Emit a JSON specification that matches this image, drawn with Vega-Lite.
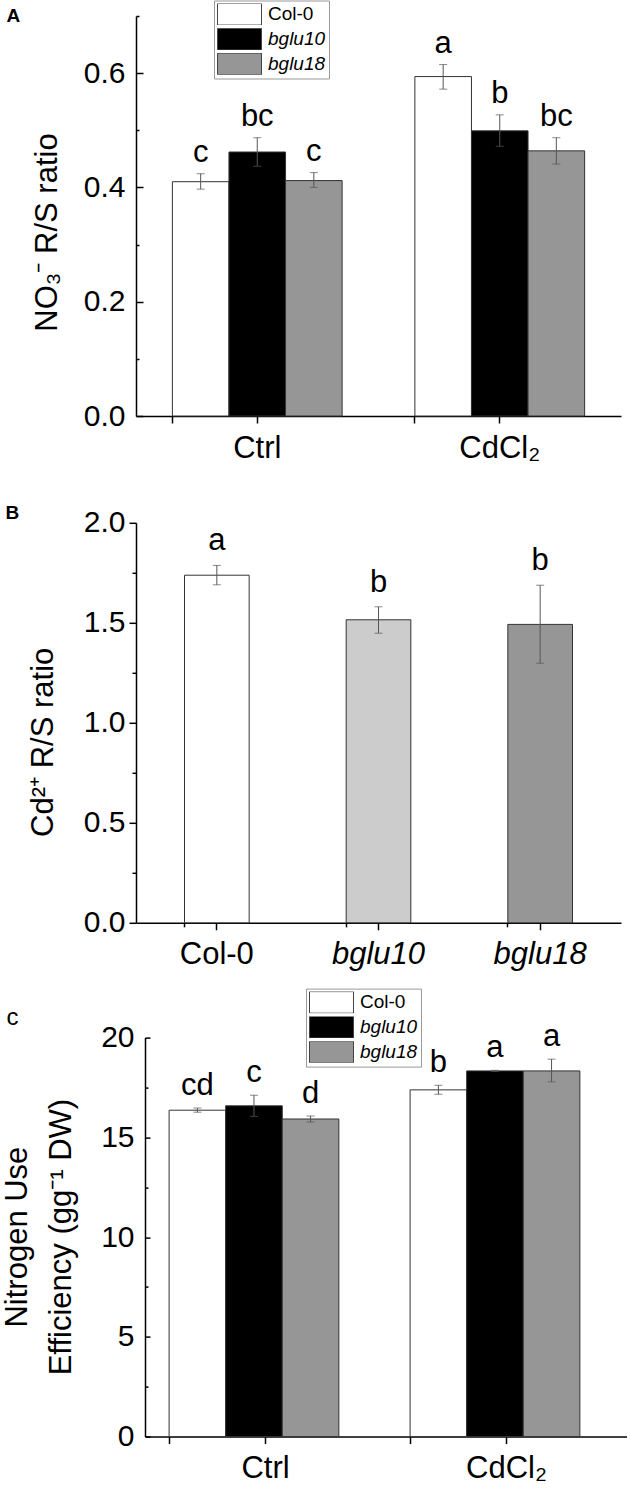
{
  "$schema": "https://vega.github.io/schema/vega-lite/v6.json",
  "background": "white",
  "padding": {"left": 1, "top": 0, "right": 0, "bottom": 0},
  "bounds": "flush",
  "spacing": 106.8,
  "resolve": {"scale": {"fill": "independent"}, "legend": {"fill": "independent"}},
  "config": {
    "font": "Liberation Sans",
    "view": {"stroke": null},
    "axis": {
      "domainColor": "black", "domainWidth": 1.5, "tickColor": "black", "tickWidth": 1.5, "tickSize": 7,
      "labelFont": "Liberation Sans", "labelFontSize": 30, "labelColor": "black",
      "titleFont": "Liberation Sans", "titleFontSize": 31, "titleFontWeight": "normal", "titleColor": "black",
      "grid": false
    },
    "legend": {
      "orient": "none", "direction": "vertical", "title": null,
      "symbolType": "M-1,-0.49H1V0.49H-1Z", "symbolSize": 1936, "symbolStrokeColor": "#444", "symbolStrokeWidth": 1,
      "clipHeight": 21.6,
      "labelFont": "Liberation Sans", "labelFontSize": 19, "labelColor": "black", "labelOffset": 6,
      "rowPadding": 2.8, "padding": 3, "strokeColor": "#999", "fillColor": "white"
    }
  },
  "datasets": {
    "nitrate": [
      {"treatment": "Ctrl", "genotype": "Col-0", "mean": 0.410, "lo": 0.397, "hi": 0.424, "letter": "c"},
      {"treatment": "Ctrl", "genotype": "bglu10", "mean": 0.462, "lo": 0.437, "hi": 0.487, "letter": "bc"},
      {"treatment": "Ctrl", "genotype": "bglu18", "mean": 0.412, "lo": 0.400, "hi": 0.426, "letter": "c"},
      {"treatment": "CdCl₂", "genotype": "Col-0", "mean": 0.594, "lo": 0.572, "hi": 0.615, "letter": "a"},
      {"treatment": "CdCl₂", "genotype": "bglu10", "mean": 0.499, "lo": 0.472, "hi": 0.527, "letter": "b"},
      {"treatment": "CdCl₂", "genotype": "bglu18", "mean": 0.464, "lo": 0.441, "hi": 0.487, "letter": "bc"}
    ],
    "cadmium": [
      {"genotype": "Col-0", "mean": 1.738, "lo": 1.690, "hi": 1.787, "letter": "a"},
      {"genotype": "bglu10", "mean": 1.515, "lo": 1.448, "hi": 1.580, "letter": "b"},
      {"genotype": "bglu18", "mean": 1.492, "lo": 1.298, "hi": 1.688, "letter": "b"}
    ],
    "nue": [
      {"treatment": "Ctrl", "genotype": "Col-0", "mean": 16.36, "lo": 16.26, "hi": 16.47, "letter": "cd"},
      {"treatment": "Ctrl", "genotype": "bglu10", "mean": 16.58, "lo": 16.05, "hi": 17.11, "letter": "c"},
      {"treatment": "Ctrl", "genotype": "bglu18", "mean": 15.92, "lo": 15.77, "hi": 16.07, "letter": "d"},
      {"treatment": "CdCl₂", "genotype": "Col-0", "mean": 17.38, "lo": 17.16, "hi": 17.61, "letter": "b"},
      {"treatment": "CdCl₂", "genotype": "bglu10", "mean": 18.33, "lo": 18.30, "hi": 18.36, "letter": "a"},
      {"treatment": "CdCl₂", "genotype": "bglu18", "mean": 18.33, "lo": 17.78, "hi": 18.92, "letter": "a"}
    ]
  },
  "vconcat": [
    {
      "width": 485, "height": 400,
      "data": {"name": "nitrate"},
      "layer": [
        {
          "mark": {"type": "bar", "stroke": "#333", "strokeWidth": 1},
          "encoding": {
            "x": {"field": "treatment", "type": "nominal", "sort": ["Ctrl", "CdCl₂"], "scale": {"paddingInner": 0.3, "paddingOuter": 0.15},
              "axis": {"title": null, "labelAngle": 0, "labelPadding": 10, "labelFontSize": 31, "orient": "bottom"}},
            "xOffset": {"field": "genotype", "type": "nominal", "sort": ["Col-0", "bglu10", "bglu18"], "scale": {"paddingInner": 0, "paddingOuter": 0}},
            "y": {"field": "mean", "type": "quantitative", "scale": {"domain": [0, 0.7], "nice": false, "zero": true},
              "axis": {"values": [0, 0.2, 0.4, 0.6], "format": ".1f", "tickSize": -7, "labelPadding": 18, "orient": "left",
                "title": "NO₃⁻ R/S ratio", "titleX": -80, "titleY": 216, "titleAngle": 270, "titleAlign": "center", "titleBaseline": "alphabetic"}},
            "fill": {"field": "genotype", "type": "nominal",
              "scale": {"domain": ["Col-0", "bglu10", "bglu18"], "range": ["#ffffff", "#000000", "#969696"]},
              "legend": {"legendX": 78, "legendY": -15.5,
                "encode": {"labels": {"update": {"fontStyle": {"signal": "datum.label == 'Col-0' ? 'normal' : 'italic'"}}}}}}
          }
        },
        {
          "mark": {"type": "rule", "color": "#555", "strokeWidth": 1},
          "encoding": {
            "x": {"field": "treatment", "type": "nominal", "sort": ["Ctrl", "CdCl₂"],
              "axis": {"title": null, "labels": false, "domain": false, "bandPosition": 0, "tickSize": 7, "orient": "bottom"}},
            "xOffset": {"field": "genotype", "type": "nominal", "sort": ["Col-0", "bglu10", "bglu18"]},
            "y": {"field": "lo", "type": "quantitative",
              "axis": {"values": [0.1, 0.3, 0.5, 0.7], "labels": false, "domain": false, "tickSize": -3, "title": null, "orient": "left"}},
            "y2": {"field": "hi"}
          }
        },
        {
          "mark": {"type": "tick", "color": "#555", "size": 8, "thickness": 1},
          "encoding": {
            "x": {"field": "treatment", "type": "nominal", "sort": ["Ctrl", "CdCl₂"],
              "axis": {"orient": "top", "labels": false, "ticks": false, "domain": false, "title": "A",
                "titleX": -130, "titleY": 5.2, "titleAngle": 0, "titleAlign": "left", "titleBaseline": "alphabetic",
                "titleFontSize": 19, "titleFontWeight": "bold"}},
            "xOffset": {"field": "genotype", "type": "nominal", "sort": ["Col-0", "bglu10", "bglu18"]},
            "y": {"field": "hi", "type": "quantitative", "axis": null}
          }
        },
        {
          "mark": {"type": "tick", "color": "#555", "size": 8, "thickness": 1},
          "encoding": {
            "x": {"field": "treatment", "type": "nominal", "sort": ["Ctrl", "CdCl₂"], "axis": null},
            "xOffset": {"field": "genotype", "type": "nominal", "sort": ["Col-0", "bglu10", "bglu18"]},
            "y": {"field": "lo", "type": "quantitative", "axis": null}
          }
        },
        {
          "mark": {"type": "text", "fontSize": 31, "dy": -12, "baseline": "alphabetic", "color": "black", "font": "Liberation Sans"},
          "encoding": {
            "x": {"field": "treatment", "type": "nominal", "sort": ["Ctrl", "CdCl₂"], "axis": null},
            "xOffset": {"field": "genotype", "type": "nominal", "sort": ["Col-0", "bglu10", "bglu18"]},
            "y": {"field": "hi", "type": "quantitative", "axis": null},
            "text": {"field": "letter"}
          }
        }
      ],
      "resolve": {"axis": {"x": "independent", "y": "independent"}}
    },
    {
      "width": 485, "height": 400,
      "data": {"name": "cadmium"},
      "layer": [
        {
          "mark": {"type": "bar", "stroke": "#333", "strokeWidth": 1},
          "encoding": {
            "x": {"field": "genotype", "type": "nominal", "sort": ["Col-0", "bglu10", "bglu18"], "scale": {"paddingInner": 0.6, "paddingOuter": 0.3},
              "axis": {"title": null, "labelAngle": 0, "labelPadding": 10, "labelFontSize": 31, "orient": "bottom",
                "labelFontStyle": {"condition": {"test": "datum.value != 'Col-0'", "value": "italic"}, "value": "normal"}}},
            "y": {"field": "mean", "type": "quantitative", "scale": {"domain": [0, 2], "nice": false},
              "axis": {"values": [0, 0.5, 1, 1.5, 2], "format": ".1f", "labelPadding": 4, "orient": "left",
                "title": "Cd²⁺ R/S ratio", "titleX": -84, "titleY": 219, "titleAngle": 270, "titleAlign": "center", "titleBaseline": "alphabetic"}},
            "fill": {"field": "genotype", "type": "nominal",
              "scale": {"domain": ["Col-0", "bglu10", "bglu18"], "range": ["#ffffff", "#cccccc", "#969696"]}, "legend": null}
          }
        },
        {
          "mark": {"type": "rule", "color": "#555", "strokeWidth": 1},
          "encoding": {
            "x": {"field": "genotype", "type": "nominal", "sort": ["Col-0", "bglu10", "bglu18"],
              "axis": {"title": null, "labels": false, "domain": false, "bandPosition": 0, "tickSize": 4, "orient": "bottom"}},
            "y": {"field": "lo", "type": "quantitative",
              "axis": {"values": [0.25, 0.75, 1.25, 1.75], "labels": false, "domain": false, "tickSize": 4, "title": null, "orient": "left"}},
            "y2": {"field": "hi"}
          }
        },
        {
          "mark": {"type": "tick", "color": "#555", "size": 8, "thickness": 1},
          "encoding": {
            "x": {"field": "genotype", "type": "nominal", "sort": ["Col-0", "bglu10", "bglu18"],
              "axis": {"orient": "top", "labels": false, "ticks": false, "domain": false, "title": "B",
                "titleX": -131, "titleY": -4.3, "titleAngle": 0, "titleAlign": "left", "titleBaseline": "alphabetic",
                "titleFontSize": 19, "titleFontWeight": "bold"}},
            "y": {"field": "hi", "type": "quantitative", "axis": null}
          }
        },
        {
          "mark": {"type": "tick", "color": "#555", "size": 8, "thickness": 1},
          "encoding": {
            "x": {"field": "genotype", "type": "nominal", "sort": ["Col-0", "bglu10", "bglu18"], "axis": null},
            "y": {"field": "lo", "type": "quantitative", "axis": null}
          }
        },
        {
          "mark": {"type": "text", "fontSize": 31, "dy": -15, "baseline": "alphabetic", "color": "black", "font": "Liberation Sans"},
          "encoding": {
            "x": {"field": "genotype", "type": "nominal", "sort": ["Col-0", "bglu10", "bglu18"], "axis": null},
            "y": {"field": "hi", "type": "quantitative", "axis": null},
            "text": {"field": "letter"}
          }
        }
      ],
      "resolve": {"axis": {"x": "independent", "y": "independent"}}
    },
    {
      "width": 491, "height": 407,
      "data": {"name": "nue"},
      "layer": [
        {
          "mark": {"type": "bar", "stroke": "#333", "strokeWidth": 1},
          "encoding": {
            "x": {"field": "treatment", "type": "nominal", "sort": ["Ctrl", "CdCl₂"], "scale": {"range": [9, 491], "paddingInner": 0.2, "paddingOuter": 0.1},
              "axis": {"title": null, "labelAngle": 0, "labelPadding": 10, "labelFontSize": 31, "orient": "bottom"}},
            "xOffset": {"field": "genotype", "type": "nominal", "sort": ["Col-0", "bglu10", "bglu18"], "scale": {"paddingInner": 0, "paddingOuter": 0}},
            "y": {"field": "mean", "type": "quantitative", "scale": {"domain": [0, 20], "nice": false, "range": [407, 8]},
              "axis": {"values": [0, 5, 10, 15, 20], "format": "d", "tickSize": -5, "labelPadding": 16, "orient": "left", "offset": -9,
                "title": ["Nitrogen Use", "Efficiency (gg⁻¹ DW)"], "titleX": -143, "titleY": 207, "titleAngle": 270, "titleAlign": "center", "titleBaseline": "top", "titleLineHeight": 44.6}},
            "fill": {"field": "genotype", "type": "nominal",
              "scale": {"domain": ["Col-0", "bglu10", "bglu18"], "range": ["#ffffff", "#000000", "#969696"]},
              "legend": {"legendX": 170, "legendY": -41,
                "encode": {"labels": {"update": {"fontStyle": {"signal": "datum.label == 'Col-0' ? 'normal' : 'italic'"}}}}}}
          }
        },
        {
          "mark": {"type": "rule", "color": "#555", "strokeWidth": 1},
          "encoding": {
            "x": {"field": "treatment", "type": "nominal", "sort": ["Ctrl", "CdCl₂"],
              "axis": {"title": null, "labels": false, "domain": false, "bandPosition": 0, "tickSize": 7, "orient": "bottom"}},
            "xOffset": {"field": "genotype", "type": "nominal", "sort": ["Col-0", "bglu10", "bglu18"]},
            "y": {"field": "lo", "type": "quantitative",
              "axis": {"values": [2.5, 7.5, 12.5, 17.5], "labels": false, "domain": false, "tickSize": -3, "title": null, "orient": "left", "offset": -9}},
            "y2": {"field": "hi"}
          }
        },
        {
          "mark": {"type": "tick", "color": "#555", "size": 8, "thickness": 1},
          "encoding": {
            "x": {"field": "treatment", "type": "nominal", "sort": ["Ctrl", "CdCl₂"],
              "axis": {"orient": "top", "labels": false, "ticks": false, "domain": false, "title": "c",
                "titleX": -130, "titleY": -5, "titleAngle": 0, "titleAlign": "left", "titleBaseline": "alphabetic",
                "titleFontSize": 24, "titleFontWeight": "normal"}},
            "xOffset": {"field": "genotype", "type": "nominal", "sort": ["Col-0", "bglu10", "bglu18"]},
            "y": {"field": "hi", "type": "quantitative", "axis": null}
          }
        },
        {
          "mark": {"type": "tick", "color": "#555", "size": 8, "thickness": 1},
          "encoding": {
            "x": {"field": "treatment", "type": "nominal", "sort": ["Ctrl", "CdCl₂"], "axis": null},
            "xOffset": {"field": "genotype", "type": "nominal", "sort": ["Col-0", "bglu10", "bglu18"]},
            "y": {"field": "lo", "type": "quantitative", "axis": null}
          }
        },
        {
          "mark": {"type": "text", "fontSize": 31, "dy": -13, "baseline": "alphabetic", "color": "black", "font": "Liberation Sans"},
          "encoding": {
            "x": {"field": "treatment", "type": "nominal", "sort": ["Ctrl", "CdCl₂"], "axis": null},
            "xOffset": {"field": "genotype", "type": "nominal", "sort": ["Col-0", "bglu10", "bglu18"]},
            "y": {"field": "hi", "type": "quantitative", "axis": null},
            "text": {"field": "letter"}
          }
        }
      ],
      "resolve": {"axis": {"x": "independent", "y": "independent"}}
    }
  ]
}
